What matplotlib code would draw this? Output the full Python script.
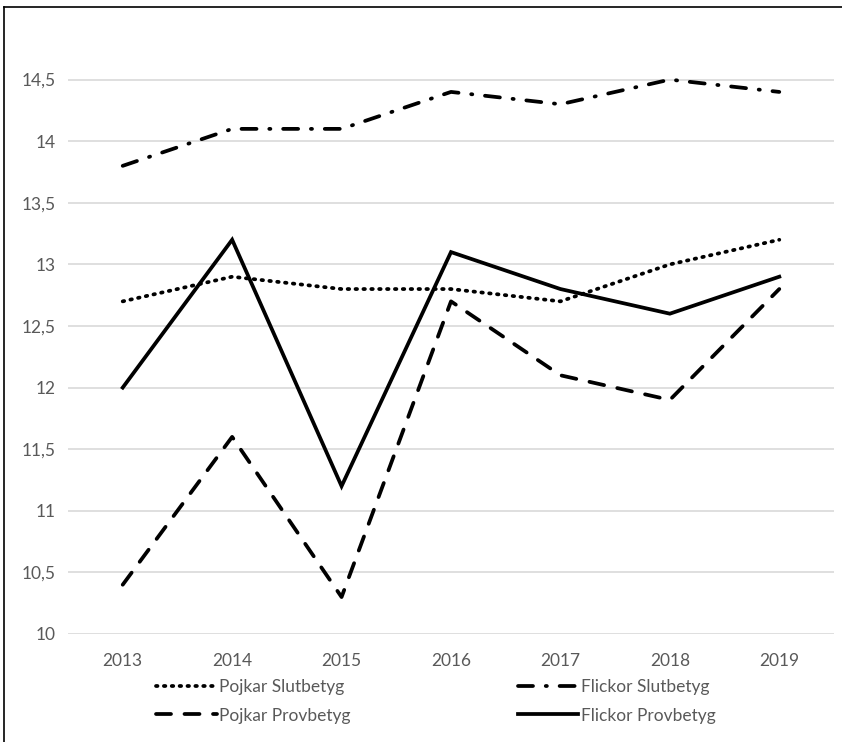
import matplotlib.pyplot as plt
from matplotlib.lines import Line2D

years = ['2013', '2014', '2015', '2016', '2017', '2018', '2019']
pojkar_slut = [12.7, 12.9, 12.8, 12.8, 12.7, 13.0, 13.2]
flickor_slut = [13.8, 14.1, 14.1, 14.4, 14.3, 14.5, 14.4]
pojkar_prov = [10.4, 11.6, 10.3, 12.7, 12.1, 11.9, 12.8]
flickor_prov = [12.0, 13.2, 11.2, 13.1, 12.8, 12.6, 12.9]
yticks = [10, 10.5, 11, 11.5, 12, 12.5, 13, 13.5, 14, 14.5]

plt.rcParams['font.family'] = ['Lato', 'DejaVu Sans']

W, H = 842, 742
fig = plt.figure(figsize=(W / 100, H / 100), dpi=100)
ax = fig.add_axes([68 / W, 1 - 634 / H, (834 - 68) / W, (634 - 18) / H])

x = list(range(len(years)))
lw = 2.7
ax.plot(x, pojkar_slut, color='black', lw=lw, linestyle=(0, (0.4, 1.7)),
        dash_capstyle='round', label='Pojkar Slutbetyg')
ax.plot(x, pojkar_prov, color='black', lw=lw, linestyle=(0, (4.0, 3.6)),
        dash_capstyle='round', label='Pojkar Provbetyg')
ax.plot(x, flickor_slut, color='black', lw=lw, linestyle=(0, (4.0, 3.4, 0.3, 3.4)),
        dash_capstyle='round', label='Flickor Slutbetyg')
ax.plot(x, flickor_prov, color='black', lw=lw, linestyle='-',
        solid_joinstyle='miter', label='Flickor Provbetyg')

ax.set_xlim(-0.5, len(years) - 0.5)
ax.set_ylim(10, 15)
ax.set_xticks(x)
ax.set_xticklabels(years)
ax.set_yticks(yticks)
ax.set_yticklabels([('%g' % v).replace('.', ',') for v in yticks])
ax.tick_params(length=0, labelsize=12.5, colors='#595959')
ax.tick_params(axis='x', pad=14)
ax.tick_params(axis='y', pad=9)
ax.yaxis.grid(True, color='#d9d9d9', lw=1.2)
ax.set_axisbelow(True)
for s in ax.spines.values():
    s.set_visible(False)

leg = fig.legend(handles=ax.get_lines(), loc='upper left', ncol=2,
                 bbox_to_anchor=(156 / W, 1 - 679 / H), frameon=False,
                 borderaxespad=0, borderpad=0,
                 fontsize=12.5, handlelength=3.5, columnspacing=9.6,
                 labelspacing=0.72, handletextpad=0.15)
for t in leg.get_texts():
    t.set_color('#595959')

# outer chart border
fig.add_artist(Line2D([4 / W, 4 / W], [0, 1 - 7 / H], color='black', lw=1.2))
fig.add_artist(Line2D([4 / W, 1], [1 - 7 / H, 1 - 7 / H], color='black', lw=1.2))

fig.savefig('out.png', dpi=100)
